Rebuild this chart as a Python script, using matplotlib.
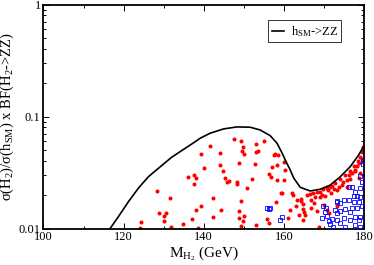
import matplotlib
matplotlib.use("Agg")
import matplotlib.pyplot as plt
from matplotlib.ticker import LogLocator, MultipleLocator, FixedLocator, FixedFormatter, NullFormatter

plt.rcParams['font.family'] = ['Liberation Serif', 'DejaVu Serif']
plt.rcParams['mathtext.fontset'] = 'custom'
plt.rcParams['mathtext.rm'] = 'Liberation Serif'
plt.rcParams['mathtext.it'] = 'Liberation Serif'

# h_SM -> ZZ reference curve
curve_m = [116.6, 118.7, 121.2, 123.7, 126.2, 128.7, 132.0, 135.4, 137.9, 139.1,
           141.6, 145.0, 148.3, 151.6, 154.1, 156.6, 158.3, 159.6, 160.5, 161.5,
           162.5, 164.1, 166.6, 169.1, 171.6, 174.1, 176.6, 178.7, 180.4]
curve_v = [0.0100, 0.0128, 0.0174, 0.0230, 0.0291, 0.0346, 0.0434, 0.0522, 0.0598, 0.0641,
           0.0711, 0.0777, 0.0809, 0.0804, 0.0760, 0.0676, 0.0579, 0.0471, 0.0400, 0.0340,
           0.0282, 0.0234, 0.0217, 0.0225, 0.0245, 0.0291, 0.0358, 0.0455, 0.0579]

# red points
red_m = [136.2, 128.3, 131.6, 128.9, 130.5, 130.2, 130.1, 124.4, 124.1, 131.8, 134.8,
         147.6, 149.2, 141.6, 149.7, 155.0, 153.0, 149.5, 150.1, 153.5, 153.1, 139.3,
         144.0, 157.7, 148.8, 152.7, 144.1, 140.0, 144.7, 137.6, 138.0, 137.5, 145.4,
         146.3, 145.7, 148.4, 148.3, 152.0, 150.7, 156.2, 156.9, 142.2, 149.3, 139.3,
         138.1, 144.4, 148.9, 142.2, 150.0, 148.9, 137.1, 149.8, 155.8, 156.4, 149.2,
         153.0, 138.5,
         157.6, 158.5, 158.3, 157.0, 160.0, 160.4, 158.3, 160.0, 159.5, 162.0, 158.1,
         163.3, 164.4, 164.9, 165.8, 167.3, 166.8, 168.3, 169.1, 167.9, 169.9, 170.8,
         171.6, 164.9, 166.9, 168.3, 161.6, 165.4, 163.7, 164.9, 168.7, 170.1, 170.8,
         171.2, 173.3, 173.3, 174.5, 175.8, 177.0, 177.9, 178.7, 179.1, 179.5, 177.5,
         178.5, 176.6, 175.4, 174.1, 172.9, 172.0, 179.1, 178.9, 175.8, 176.6, 177.9,
         179.8, 166.5, 169.5, 171.0, 172.5, 173.8, 170.2, 162.2, 159.3, 164.2, 163.0,
         167.5, 169.0, 171.8, 174.8, 176.2, 178.2, 179.6, 165.0, 161.0]
red_v = [0.0288, 0.0218, 0.0187, 0.0137, 0.0137, 0.0131, 0.0118, 0.0114, 0.0102, 0.0103, 0.0110,
         0.0632, 0.0611, 0.0547, 0.0533, 0.0607, 0.0568, 0.0496, 0.0465, 0.0494, 0.0481, 0.0468,
         0.0474, 0.0465, 0.0388, 0.0378, 0.0371, 0.0346, 0.0326, 0.0300, 0.0282, 0.0249, 0.0285,
         0.0268, 0.0260, 0.0261, 0.0249, 0.0278, 0.0230, 0.0306, 0.0290, 0.0187, 0.0177, 0.0158,
         0.0147, 0.0147, 0.0145, 0.0126, 0.0130, 0.0124, 0.0121, 0.0116, 0.0122, 0.0113, 0.0106,
         0.0108, 0.0102,
         0.0455, 0.0450, 0.0370, 0.0357, 0.0396, 0.0334, 0.0272, 0.0274, 0.0209, 0.0207, 0.0174,
         0.0180, 0.0183, 0.0166, 0.0200, 0.0207, 0.0180, 0.0214, 0.0212, 0.0190, 0.0225, 0.0230,
         0.0236, 0.0149, 0.0152, 0.0145, 0.0147, 0.0132, 0.0132, 0.0120, 0.0104, 0.0163, 0.0147,
         0.0137, 0.0158, 0.0222, 0.0245, 0.0272, 0.0313, 0.0334, 0.0384, 0.0440, 0.0488, 0.0360,
         0.0400, 0.0330, 0.0300, 0.0275, 0.0255, 0.0240, 0.0313, 0.0282, 0.0237, 0.0280, 0.0330,
         0.0535, 0.0205, 0.0200, 0.0220, 0.0225, 0.0235, 0.0195, 0.0198, 0.0208, 0.0175, 0.0160,
         0.0170, 0.0190, 0.0210, 0.0260, 0.0300, 0.0360, 0.0420, 0.0140, 0.0125]

# blue points
blue_m = [155.8, 156.2, 176.4, 177.0, 179.5, 179.1, 177.9, 179.1, 175.0, 176.2, 177.5,
          178.7, 173.3, 174.1, 177.0, 178.3, 179.5, 172.9, 174.1, 175.4, 176.6, 169.9,
          170.4, 173.3, 177.9, 179.1, 172.0, 173.3, 175.0, 176.5, 178.7, 169.5, 171.2,
          174.1, 177.9, 179.1, 175.4, 159.5, 159.1, 156.6, 179.7, 179.8, 179.0, 178.4,
          177.6, 173.4, 170.5, 170.9, 172.2, 171.5]
blue_v = [0.0154, 0.0150, 0.0237, 0.0237, 0.0263, 0.0230, 0.0214, 0.0193, 0.0180, 0.0180, 0.0174,
          0.0174, 0.0174, 0.0171, 0.0152, 0.0152, 0.0158, 0.0147, 0.0145, 0.0149, 0.0142, 0.0159,
          0.0142, 0.0137, 0.0128, 0.0128, 0.0121, 0.0120, 0.0124, 0.0120, 0.0120, 0.0124, 0.0116,
          0.0112, 0.0108, 0.0104, 0.0104, 0.0126, 0.0120, 0.0152, 0.0400, 0.0374, 0.0294, 0.0196,
          0.0196, 0.0176, 0.0154, 0.0131, 0.0104, 0.0110]

fig = plt.figure(figsize=(3.74, 2.65), dpi=100)
ax = fig.add_axes([0.1163, 0.137, 0.8567, 0.846])

ax.plot(red_m, red_v, 'o', color='red', markersize=2.9, markeredgewidth=0, zorder=2)
ax.plot(blue_m, blue_v, 's', markerfacecolor='none', markeredgecolor='blue',
        markersize=3.0, markeredgewidth=0.6, zorder=3)
ax.plot(curve_m, curve_v, color='black', linewidth=1.2, label=r'h$_{\rm SM}$->ZZ', zorder=4)

ax.set_yscale('log')
ax.set_xlim(100, 180)
ax.set_ylim(0.01, 1)
ax.xaxis.set_major_locator(MultipleLocator(20))
ax.xaxis.set_minor_locator(MultipleLocator(10))
ax.yaxis.set_major_locator(FixedLocator([0.01, 0.1, 1]))
ax.yaxis.set_major_formatter(FixedFormatter(['0.01', '0.1', '1']))
ax.yaxis.set_minor_locator(LogLocator(base=10, subs=range(2, 10)))
ax.yaxis.set_minor_formatter(NullFormatter())

ax.tick_params(which='both', direction='in', top=True, right=True, labelsize=9, width=0.7)
ax.tick_params(which='major', length=4, pad=2)
ax.tick_params(which='minor', length=2.5)
for s in ax.spines.values():
    s.set_linewidth(1.3)

ax.set_xlabel(r'M$_{\rm H_2}$ (GeV)', fontsize=11, labelpad=1)
ax.set_ylabel(r'$\sigma$(H$_2$)/$\sigma$(h$_{\rm SM}$) x BF(H$_2$->ZZ)', fontsize=10.5)
ax.yaxis.set_label_coords(-0.085, 0.5)

leg = ax.legend(loc='upper right', bbox_to_anchor=(0.93, 0.93), fontsize=9, frameon=True,
                fancybox=False, handlelength=1.0, handletextpad=0.5, borderpad=0.3,
                borderaxespad=0)
leg.get_frame().set_edgecolor('black')
leg.get_frame().set_linewidth(0.7)

fig.savefig('out.png', dpi=100)
